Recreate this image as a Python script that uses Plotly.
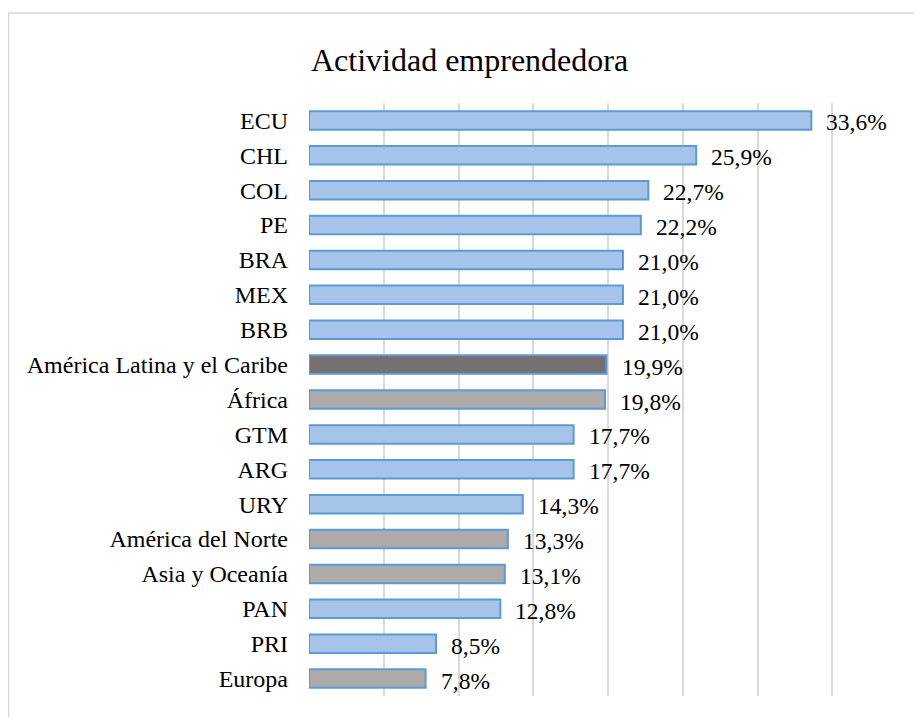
import plotly.graph_objects as go

categories = ["ECU", "CHL", "COL", "PE", "BRA", "MEX", "BRB",
              "América Latina y el Caribe", "África", "GTM", "ARG", "URY",
              "América del Norte", "Asia y Oceanía", "PAN", "PRI", "Europa"]
values = [33.6, 25.9, 22.7, 22.2, 21.0, 21.0, 21.0, 19.9, 19.8, 17.7, 17.7,
          14.3, 13.3, 13.1, 12.8, 8.5, 7.8]
group = ["country", "country", "country", "country", "country", "country", "country",
         "latam", "region", "country", "country", "country",
         "region", "region", "country", "country", "region"]
title_text = "Actividad emprendedora"

color_map = {"country": "#a6c3e9", "latam": "#767171", "region": "#aeaaaa"}
colors = [color_map[g] for g in group]
labels = [f"{v:.1f}".replace(".", ",") + "%" for v in values]

FONT = "Liberation Serif, Times New Roman, serif"

fig = go.Figure()
fig.add_trace(go.Bar(
    x=values, y=categories, orientation="h",
    marker=dict(color=colors, line=dict(color="#5b9bd5", width=2)),
    hoverinfo="x+y",
))

for v, c, t in zip(values, categories, labels):
    fig.add_annotation(x=v, y=c, text=t, xanchor="left", yanchor="middle",
                       xshift=13, yshift=-2, showarrow=False,
                       font=dict(family=FONT, size=23.5, color="#000000"))

fig.add_shape(type="rect", xref="paper", yref="paper",
              x0=-0.5025, x1=1.2, y0=-0.2, y1=1.1518,
              line=dict(color="#d9d9d9", width=1.5), fillcolor="rgba(0,0,0,0)",
              layer="below")

fig.update_layout(
    width=914, height=709,
    margin=dict(l=301, r=15, t=95, b=21),
    paper_bgcolor="white", plot_bgcolor="white",
    bargap=0.47,
    showlegend=False,
    font=dict(family=FONT, size=24, color="#000000"),
    title=dict(text=title_text, x=0.505, xref="container", xanchor="center",
               y=1 - 52 / 709, yref="container", yanchor="middle",
               font=dict(family=FONT, size=32, color="#000000")),
    xaxis=dict(range=[0, 40], dtick=5, showgrid=True, gridcolor="#d9d9d9",
               gridwidth=1.5, showticklabels=False, zeroline=False,
               showline=False, fixedrange=True),
    yaxis=dict(autorange="reversed", showgrid=False, showline=False,
               ticks="", ticklabelstandoff=20,
               tickfont=dict(family=FONT, size=24, color="#000000")),
)

fig.write_html("out.html")
